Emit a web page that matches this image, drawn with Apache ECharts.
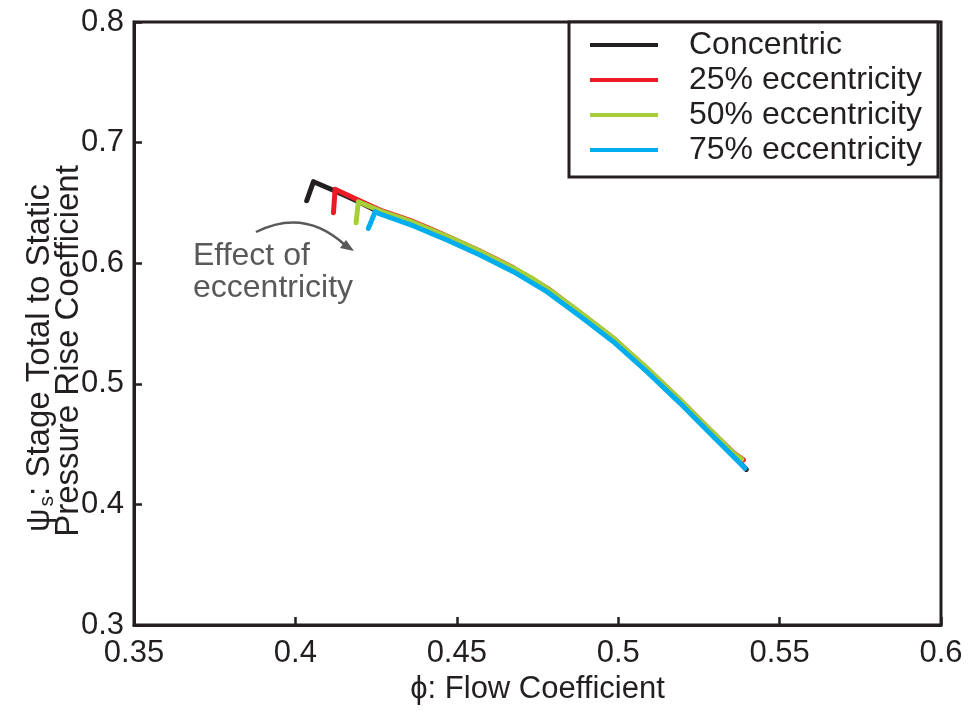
<!DOCTYPE html>
<html>
<head>
<meta charset="utf-8">
<script src="https://cdn.jsdelivr.net/npm/echarts@6/dist/echarts.min.js"></script>
<style>html,body{margin:0;padding:0;background:#fff}#c{width:969px;height:711px}</style>
</head>
<body>
<div id="c"></div>
<script>
// ---- data ----
const seriesNames = ['Concentric', '25% eccentricity', '50% eccentricity', '75% eccentricity'];
const seriesColors = ['#231f20', '#ed1c24', '#a6ce39', '#00aeef'];
const xTicks = [0.35, 0.4, 0.45, 0.5, 0.55, 0.6];
const yTicks = [0.3, 0.4, 0.5, 0.6, 0.7, 0.8];

const concentric = [
  [0.4035, 0.6518], [0.4056, 0.6676], [0.4123, 0.6599], [0.4191, 0.6516], [0.4262, 0.6420],
  [0.4366, 0.6318], [0.4469, 0.6200], [0.4572, 0.6076], [0.4675, 0.5938], [0.4779, 0.5772],
  [0.4882, 0.5570], [0.4985, 0.5357], [0.5089, 0.5108], [0.5192, 0.4846], [0.5295, 0.4569],
  [0.5357, 0.4403], [0.5397, 0.4290]
];
const ecc25 = [
  [0.4118, 0.6419], [0.4123, 0.6613], [0.4191, 0.6528], [0.4262, 0.6440], [0.4310, 0.6396],
  [0.4366, 0.6344], [0.4420, 0.6283], [0.4469, 0.6226], [0.4572, 0.6100], [0.4620, 0.6036],
  [0.4675, 0.5962], [0.4779, 0.5796], [0.4882, 0.5590], [0.4985, 0.5378], [0.5040, 0.5245],
  [0.5089, 0.5128], [0.5192, 0.4866], [0.5295, 0.4590], [0.5357, 0.4427], [0.5388, 0.4370]
];
const ecc50 = [
  [0.4188, 0.6336], [0.4195, 0.6510], [0.4262, 0.6435], [0.4366, 0.6338], [0.4469, 0.6222],
  [0.4520, 0.6163], [0.4572, 0.6098], [0.4675, 0.5960], [0.4730, 0.5880], [0.4779, 0.5794],
  [0.4882, 0.5591], [0.4985, 0.5379], [0.5089, 0.5130], [0.5192, 0.4868], [0.5240, 0.4736],
  [0.5295, 0.4591], [0.5357, 0.4425], [0.5383, 0.4374]
];
const ecc75 = [
  [0.4226, 0.6289], [0.4247, 0.6427], [0.4262, 0.6408], [0.4366, 0.6309], [0.4469, 0.6192],
  [0.4572, 0.6068], [0.4675, 0.5930], [0.4779, 0.5764], [0.4882, 0.5561], [0.4985, 0.5349],
  [0.5089, 0.5100], [0.5192, 0.4838], [0.5295, 0.4561], [0.5357, 0.4396], [0.5393, 0.4299]
];
const seriesData = [concentric, ecc25, ecc50, ecc75];

const FONT = '"Liberation Sans", Arial, Helvetica, sans-serif';
const INK = '#231f20';
const GREY = '#58595b';

const chart = echarts.init(document.getElementById('c'), null, {renderer: 'canvas'});
chart.setOption({
  animation: false,
  backgroundColor: '#fff',
  grid: {left: 134, right: 28, top: 22, bottom: 86, show: true, borderColor: INK, borderWidth: 3, backgroundColor: 'transparent'},
  xAxis: {
    type: 'value', min: xTicks[0], max: xTicks[xTicks.length - 1], interval: 0.05,
    name: 'ϕ: Flow Coefficient', nameLocation: 'middle', nameGap: 45,
    nameTextStyle: {fontFamily: FONT, fontSize: 31, color: INK},
    axisLine: {show: true, lineStyle: {color: INK, width: 3}},
    axisTick: {show: true, inside: true, length: 8, lineStyle: {color: INK, width: 2.5}},
    axisLabel: {fontFamily: FONT, fontSize: 31, color: INK, margin: 13, formatter: v => String(+v.toFixed(2))},
    splitLine: {show: false}
  },
  yAxis: {
    type: 'value', min: yTicks[0], max: yTicks[yTicks.length - 1], interval: 0.1,
    axisLine: {show: true, lineStyle: {color: INK, width: 3}},
    axisTick: {show: true, inside: true, length: 8, lineStyle: {color: INK, width: 2.5}},
    axisLabel: {fontFamily: FONT, fontSize: 31, color: INK, margin: 10, formatter: v => String(+v.toFixed(1))},
    splitLine: {show: false}
  },
  legend: {
    left: 569, top: 22,
    orient: 'vertical',
    data: seriesNames,
    icon: 'rect', itemWidth: 68, itemHeight: 4, itemGap: 3,
    padding: [7, 16, 11, 21],
    borderColor: INK, borderWidth: 3, backgroundColor: '#fff',
    textStyle: {fontFamily: FONT, fontSize: 32, color: INK, lineHeight: 32, padding: [0, 0, 0, 26]}
  },
  graphic: [
    {type: 'text', x: 40, y: 358, rotation: Math.PI / 2,
     style: {text: '{a|ψ}{b|s}{a|: Stage Total to Static}', align: 'center', verticalAlign: 'middle',
       rich: {a: {fontFamily: FONT, fontSize: 33, fill: INK}, b: {fontFamily: FONT, fontSize: 21, fill: INK, verticalAlign: 'bottom', padding: [14, 0, 0, 2]}}}},
    {type: 'text', x: 69, y: 351, rotation: Math.PI / 2,
     style: {text: 'Pressure Rise Coefficient', align: 'center', verticalAlign: 'middle', fontFamily: FONT, fontSize: 33, fill: INK}},
    {type: 'text', x: 193, y: 256, style: {text: 'Effect of', align: 'left', verticalAlign: 'middle', fontFamily: FONT, fontSize: 32, fill: GREY}},
    {type: 'text', x: 193, y: 288, style: {text: 'eccentricity', align: 'left', verticalAlign: 'middle', fontFamily: FONT, fontSize: 32, fill: GREY}},
    {type: 'bezierCurve', shape: {x1: 256, y1: 232, x2: 345, y2: 245, cpx1: 290, cpy1: 215, cpx2: 320, cpy2: 222},
     style: {stroke: GREY, lineWidth: 2.5, fill: null}},
    {type: 'polygon', shape: {points: [[354, 251], [340, 248], [346, 240]]}, style: {fill: GREY}}
  ],
  series: seriesData.map((d, i) => ({
    name: seriesNames[i], type: 'line', data: d, showSymbol: false, symbol: 'none',
    lineStyle: {color: seriesColors[i], width: 5, join: 'round', cap: 'round'},
    itemStyle: {color: seriesColors[i]}, z: 2 + i
  }))
});
</script>
</body>
</html>
